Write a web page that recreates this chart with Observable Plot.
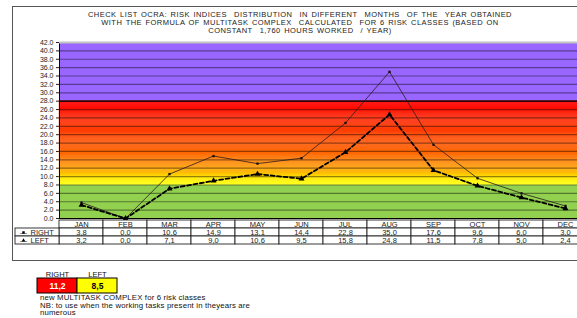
<!DOCTYPE html>
<html><head><meta charset="utf-8">
<script src="https://cdn.jsdelivr.net/npm/d3@7"></script>
<script src="https://cdn.jsdelivr.net/npm/@observablehq/plot@0.6"></script>
<style>
html,body{margin:0;padding:0;background:#fff;overflow:hidden;}
#wrap{position:relative;width:577px;height:318px;overflow:hidden;font-family:"Liberation Sans",Arial,sans-serif;}
#frame{position:absolute;left:12px;top:6px;width:620px;height:255px;border:1.5px solid #555;box-sizing:border-box;}
#title{position:absolute;left:12px;width:576px;top:11px;text-align:center;font-size:7.5px;line-height:8px;color:#222;letter-spacing:0.45px;word-spacing:1px;}
.layer{position:absolute;left:0;width:620px;}
.layer svg{max-width:none !important;}
#notes{position:absolute;left:40px;top:294px;font-size:7.8px;line-height:7.6px;color:#111;letter-spacing:0.15px;}
</style></head>
<body>
<div id="wrap">
  <div id="frame"></div>
  <div class="layer" id="main" style="top:0"></div>
  <div class="layer" id="table" style="top:218px"></div>
  <div class="layer" id="legend" style="top:265px"></div>
  <div id="title">CHECK LIST OCRA: RISK INDICES&nbsp; DISTRIBUTION&nbsp; IN DIFFERENT&nbsp; MONTHS&nbsp; OF THE&nbsp; YEAR OBTAINED<br>WITH THE FORMULA OF MULTITASK COMPLEX&nbsp; CALCULATED&nbsp; FOR 6 RISK CLASSES (BASED ON<br>CONSTANT&nbsp; 1,760 HOURS WORKED&nbsp; / YEAR)</div>
  <div id="notes">new MULTITASK COMPLEX for 6 risk classes<br>NB: to use when the working tasks present in theyears are<br>numerous</div>
</div>
<script>
const months = ["JAN","FEB","MAR","APR","MAY","JUN","JUL","AUG","SEP","OCT","NOV","DEC"];
const rightValues = [3.8, 0.0, 10.6, 14.9, 13.1, 14.4, 22.8, 35.0, 17.6, 9.6, 6.0, 3.0];
const leftValues  = [3.2, 0.0, 7.1, 9.0, 10.6, 9.5, 15.8, 24.8, 11.5, 7.8, 5.0, 2.4];
const yTicks = d3.range(0, 43, 2);
const seriesNames = ["RIGHT", "LEFT"];
const multitaskValues = [11.2, 8.5];
const zoneBreaks = [0, 8, 28, 42];

const fmtComma = v => v.toFixed(1).replace(".", ",");
const rows = months.map((m, i) => ({month: m, RIGHT: rightValues[i], LEFT: leftValues[i]}));

const green = "#92d050", purple = "#9966ff";
const warm = d3.scaleLinear()
  .domain([8, 9.5, 11, 12.5, 15, 19, 23, 26.5, 28])
  .range(["#ffff00","#ffec00","#ffb800","#ff9400","#ff6c00","#ff4c00","#ff2c00","#ff0c00","#ff0000"])
  .interpolate(d3.interpolateRgb);
const zones = [
  {y1: zoneBreaks[0], y2: zoneBreaks[1], fill: green},
  {y1: zoneBreaks[2], y2: zoneBreaks[3], fill: purple}
];
const strips = d3.range(zoneBreaks[1], zoneBreaks[2], 0.25).map(v => ({y1: v, y2: v + 0.25, fill: warm(v + 0.125)}));

const baseStyle = {fontFamily: "'Liberation Sans', Arial, sans-serif", fontSize: "7px", background: "transparent", overflow: "visible", color: "#222", maxWidth: "none"};

const main = Plot.plot({
  width: 588, height: 219,
  marginTop: 42, marginBottom: 1, marginLeft: 59, marginRight: 1,
  style: baseStyle,
  x: {type: "band", domain: months, range: [59, 587], padding: 0, axis: null},
  y: {domain: [0, 42], ticks: yTicks, tickFormat: d => d.toFixed(1), tickSize: 3, tickPadding: 3, label: null},
  marks: [
    Plot.rect(zones, {y1: "y1", y2: "y2", fill: "fill"}),
    Plot.rect(strips, {y1: "y1", y2: "y2", fill: "fill", stroke: "fill", strokeWidth: 0.3}),
    Plot.ruleY(yTicks.filter(v => v > 0 && v < 42), {stroke: "#000", strokeOpacity: 0.42, strokeWidth: 1.2}),
    Plot.ruleY([28], {stroke: "#000", strokeWidth: 1.2}),
    Plot.frame({stroke: "#000", strokeWidth: 1}),
    Plot.ruleY([42], {stroke: "#c4c4c4", strokeWidth: 2}),
    Plot.line(rows, {x: "month", y: "RIGHT", stroke: "#2a1a1a", strokeWidth: 0.8}),
    Plot.dot(rows, {x: "month", y: "RIGHT", symbol: "square", r: 1.3, fill: "#111"}),
    Plot.line(rows, {x: "month", y: "LEFT", stroke: "#000", strokeWidth: 1.8, strokeDasharray: "4,2.5"}),
    Plot.dot(rows, {x: "month", y: "LEFT", symbol: "triangle", r: 2.2, fill: "#000"})
  ]
});
document.getElementById("main").appendChild(main);

const rowKeys = ["month", ...seriesNames];
const cells = months.flatMap(m => rowKeys.map(r => ({col: m, row: r})));
const legendCells = seriesNames.map(s => ({col: "legend", row: s}));
const valueCells = rows.flatMap(d => seriesNames.map(s => ({col: d.month, row: s, v: d[s]})));

const table = Plot.plot({
  width: 588, height: 27,
  margin: 0,
  style: baseStyle,
  x: {type: "band", domain: ["legend", ...months], range: [15, 587], padding: 0, axis: null},
  y: {type: "band", domain: rowKeys, range: [1, 26], padding: 0, axis: null},
  marks: [
    Plot.cell(cells, {x: "col", y: "row", fill: "#fff", stroke: "#222", strokeWidth: 0.9}),
    Plot.cell(legendCells, {x: "col", y: "row", fill: "#fff", stroke: "#222", strokeWidth: 0.9}),
    Plot.text(months, {x: d => d, y: () => "month", text: d => d, fontSize: 7.5, fill: "#222"}),
    Plot.text(valueCells, {x: "col", y: "row", text: d => fmtComma(d.v), fontSize: 7.5, fill: "#222"}),
    Plot.text(seriesNames, {x: () => "legend", y: d => d, text: d => d, textAnchor: "start", dx: -7, fontSize: 7.5, fill: "#222"}),
    Plot.text(seriesNames, {x: () => "legend", y: d => d, text: () => "—", dx: -14, fontSize: 7, fill: "#222"}),
    Plot.dot(seriesNames, {x: () => "legend", y: d => d, dx: -14, symbol: (d, i) => i === 0 ? "square" : "triangle", r: 1.4, fill: "#000"})
  ]
});
document.getElementById("table").appendChild(table);

const mt = seriesNames.map((s, i) => ({name: s, v: multitaskValues[i]}));
const legend = Plot.plot({
  width: 130, height: 30,
  marginTop: 13, marginBottom: 2, marginLeft: 0, marginRight: 0,
  style: baseStyle,
  x: {type: "band", domain: seriesNames, range: [37, 117], padding: 0, axis: null},
  marks: [
    Plot.cell(mt, {x: "name", fill: (d, i) => i === 0 ? "#ff0000" : "#ffff00", stroke: "#000", strokeWidth: 1}),
    Plot.text(mt, {x: "name", text: d => fmtComma(d.v), fontWeight: "bold", fontSize: 8.5, fill: (d, i) => i === 0 ? "#fff" : "#000"}),
    Plot.text(mt, {x: "name", text: "name", frameAnchor: "top", dy: -7, fontSize: 7.5, fill: "#111"})
  ]
});
document.getElementById("legend").appendChild(legend);
</script>
</body></html>
